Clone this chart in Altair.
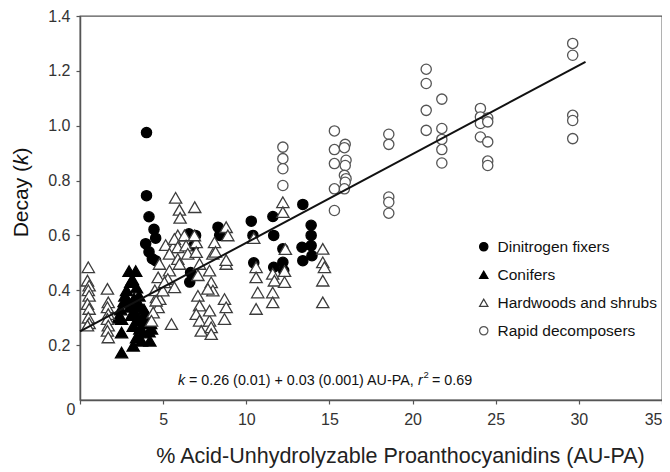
import altair as alt
import pandas as pd

groups = ["Dinitrogen fixers", "Conifers", "Hardwoods and shrubs", "Rapid decomposers"]

fix_x = [4.0, 4.0, 4.15, 4.45, 4.55, 3.95, 4.15, 4.35, 4.55, 6.55, 6.95, 6.85, 6.65, 6.6,
         8.3, 8.4, 10.3, 10.4, 10.45, 11.6, 11.65, 11.65, 12.2, 12.2, 12.25,
         13.4, 13.35, 13.4, 13.9, 13.9, 13.9, 13.95]
fix_y = [0.975, 0.745, 0.668, 0.622, 0.59, 0.57, 0.54, 0.515, 0.508, 0.606, 0.60, 0.563, 0.465, 0.43,
         0.63, 0.60, 0.652, 0.60, 0.50, 0.669, 0.60, 0.484, 0.551, 0.502, 0.472,
         0.713, 0.557, 0.508, 0.637, 0.60, 0.563, 0.526]

con_x = [2.3, 2.45, 2.5, 2.5, 2.5, 2.65, 2.7, 2.8, 2.9, 2.95, 3.0, 3.05, 3.1, 3.15, 3.2, 3.2,
         3.25, 3.3, 3.35, 3.4, 3.4, 3.45, 3.5, 3.55, 3.6, 3.65, 3.7, 3.75, 3.8, 3.85, 3.9,
         4.0, 4.1, 4.2, 4.25, 4.3, 4.15]
con_y = [0.30, 0.33, 0.295, 0.246, 0.173, 0.36, 0.38, 0.40, 0.36, 0.47, 0.34, 0.43, 0.31, 0.44, 0.27, 0.198,
         0.37, 0.32, 0.47, 0.41, 0.228, 0.35, 0.29, 0.38, 0.26, 0.34, 0.216, 0.30, 0.246, 0.33, 0.28,
         0.31, 0.30, 0.216, 0.28, 0.26, 0.25]

hw_x = [0.5, 0.45, 0.55, 0.5, 0.55, 0.45, 0.55, 0.5, 0.55, 0.45,
        1.65, 1.7, 1.65, 1.7, 1.65, 1.7, 1.65, 1.7,
        4.7, 4.6, 4.8, 4.7, 4.4, 4.3, 4.5, 5.5,
        5.75, 5.98, 6.02, 5.88, 5.15, 5.6, 5.68, 5.88, 5.38, 5.88, 4.78, 5.38, 5.28, 4.98, 5.68, 4.58, 5.98, 5.08,
        6.9, 6.28, 6.38, 6.48, 6.99, 6.99, 6.88, 7.19, 7.09, 7.09, 7.19, 6.99, 7.19, 7.29,
        7.79, 7.89, 7.99, 7.69, 7.79, 7.89, 7.89, 7.79, 8.09, 7.99, 8.15,
        8.79, 8.69, 8.79, 8.69, 8.79, 8.89, 8.79,
        10.45, 10.59, 10.59, 10.69, 10.59,
        11.59, 11.69, 11.59, 11.59,
        12.2, 12.2, 12.35, 12.3, 12.3,
        14.6, 14.6, 14.7, 14.6, 14.6]
hw_y = [0.484, 0.435, 0.417, 0.40, 0.38, 0.35, 0.332, 0.30, 0.28, 0.271,
        0.405, 0.356, 0.338, 0.313, 0.295, 0.271, 0.252, 0.228,
        0.447, 0.374, 0.368, 0.338, 0.319, 0.289, 0.40, 0.277,
        0.737, 0.693, 0.664, 0.60, 0.565, 0.557, 0.587, 0.557, 0.533, 0.514, 0.496, 0.472, 0.441, 0.399, 0.411, 0.362, 0.496, 0.429,
        0.703, 0.60, 0.563, 0.533, 0.575, 0.539, 0.60, 0.496, 0.455, 0.38, 0.344, 0.313, 0.289, 0.252,
        0.472, 0.429, 0.399, 0.405, 0.289, 0.265, 0.240, 0.326, 0.575, 0.533, 0.54,
        0.496, 0.368, 0.338, 0.295, 0.630, 0.600, 0.51,
        0.59, 0.484, 0.447, 0.392, 0.332,
        0.46, 0.435, 0.392, 0.356,
        0.721, 0.685, 0.55, 0.47, 0.43,
        0.551, 0.502, 0.484, 0.435, 0.356]

rap_x = [12.2, 12.2, 12.2, 12.2,
         15.3, 15.3, 15.3, 15.3, 15.3,
         15.95, 15.9, 16.0, 15.95, 15.9, 16.0, 15.95, 15.9,
         18.57, 18.57, 18.57, 18.57, 18.57,
         20.82, 20.82, 20.82, 20.82,
         21.76, 21.76, 21.76, 21.76, 21.76,
         24.08, 24.08, 24.08, 24.08,
         24.52, 24.52, 24.52, 24.52, 24.52,
         29.63, 29.63, 29.63, 29.63, 29.63]
rap_y = [0.922, 0.88, 0.843, 0.782,
         0.981, 0.913, 0.862, 0.77, 0.691,
         0.932, 0.92, 0.874, 0.855, 0.819, 0.807, 0.794, 0.77,
         0.969, 0.932, 0.74, 0.721, 0.681,
         1.206, 1.154, 1.056, 0.983,
         1.097, 0.99, 0.95, 0.913, 0.864,
         1.063, 1.032, 1.008, 0.959,
         1.028, 1.014, 0.941, 0.871, 0.855,
         1.30, 1.257, 1.038, 1.019, 0.953]

fit_x = [0.0, 30.4]
fit_y = [0.25, 1.233]

x_ticks = [0, 5, 10, 15, 20, 25, 30, 35]
y_ticks = [0.2, 0.4, 0.6, 0.8, 1.0, 1.2, 1.4]

rows = []
for g, xs, ys in [(groups[1], con_x, con_y), (groups[0], fix_x, fix_y),
                  (groups[2], hw_x, hw_y), (groups[3], rap_x, rap_y)]:
    for a, b in zip(xs, ys):
        rows.append({"group": g, "aupa": a, "k": b})
df = pd.DataFrame(rows)
fit_df = pd.DataFrame({"aupa": fit_x, "k": fit_y})

FONT = "Liberation Sans"
xscale = alt.Scale(domain=[0, 35], nice=False, zero=False)
yscale = alt.Scale(domain=[0, 1.4], nice=False, zero=False)

leg = alt.Legend(orient="none", legendX=396, legendY=223, title=None, labelFont=FONT,
                 labelFontSize=15.5, labelColor="#111", symbolSize=70, symbolStrokeWidth=1.2,
                 rowPadding=11, labelOffset=6, padding=0)

x_enc = alt.X("aupa:Q", scale=xscale,
              axis=alt.Axis(values=x_ticks, labelExpr="datum.value == 0 ? '' : datum.label",
                            title="% Acid-Unhydrolyzable Proanthocyanidins (AU-PA)",
                            titleX=320, titleY=45, labelPadding=7))
y_enc = alt.Y("k:Q", scale=yscale,
              axis=alt.Axis(values=y_ticks, format=".1f", title=None, labelPadding=6))
shape_enc = alt.Shape("group:N", scale=alt.Scale(domain=groups, range=["circle", "triangle-up", "triangle-up", "circle"]), legend=leg)
fill_enc = alt.Fill("group:N", scale=alt.Scale(domain=groups, range=["#000000", "#000000", "#ffffff", "#ffffff"]), legend=leg)
stroke_enc = alt.Stroke("group:N", scale=alt.Scale(domain=groups, range=["#000000", "#000000", "#3c3c3c", "#555555"]), legend=leg)

def group_layer(g, size):
    return alt.Chart(df).transform_filter(alt.datum.group == g).mark_point(
        size=size, strokeWidth=1.3, opacity=1, fillOpacity=1).encode(
        x=x_enc, y=y_enc, shape=shape_enc, fill=fill_enc, stroke=stroke_enc)

layers = [group_layer(groups[1], 150), group_layer(groups[0], 105),
          group_layer(groups[2], 150), group_layer(groups[3], 105)]

fit = alt.Chart(fit_df).mark_line(color="#111", strokeWidth=2).encode(
    x=alt.X("aupa:Q", scale=xscale), y=alt.Y("k:Q", scale=yscale))

def txt(s, x, y, size=14.3, style="normal", angle=0, align="left", baseline="middle", color="#111"):
    return alt.Chart(pd.DataFrame({"t": [s]})).mark_text(
        font=FONT, fontSize=size, fontStyle=style, angle=angle, align=align,
        baseline=baseline, color=color).encode(text="t:N", x=alt.value(x), y=alt.value(y))

ann = [
    txt("k", 98, 365, style="italic"),
    txt("= 0.26 (0.01) + 0.03 (0.001) AU-PA,", 109, 365),
    txt("r", 338, 365, style="italic"),
    txt("2", 343.5, 359, size=9.5),
    txt("= 0.69", 352, 365),
    txt("0", -9, 394, size=16, align="center", color="#333"),
    txt("Decay (", -58, 149, size=21, angle=270, align="right"),
    txt("k", -58, 149, size=21, angle=270, align="left", style="italic"),
    txt(")", -58, 138.5, size=21, angle=270, align="left"),
]

chart = alt.layer(*layers, fit, *ann).properties(
    width=582, height=384,
    autosize=alt.AutoSizeParams(type="none"),
    padding={"left": 72, "top": 8, "right": 0, "bottom": 72},
).configure_view(stroke="#555", strokeWidth=1.3).configure_axis(
    domainColor="#555", domainWidth=1.5, tickColor="#555", tickSize=4, tickWidth=1.2,
    labelFont=FONT, labelFontSize=16, labelColor="#333", grid=False,
    titleFont=FONT, titleFontSize=21.5, titleFontWeight="normal", titleColor="#222",
)

chart.save("out.html", embed_options={"renderer": "svg", "actions": False})
